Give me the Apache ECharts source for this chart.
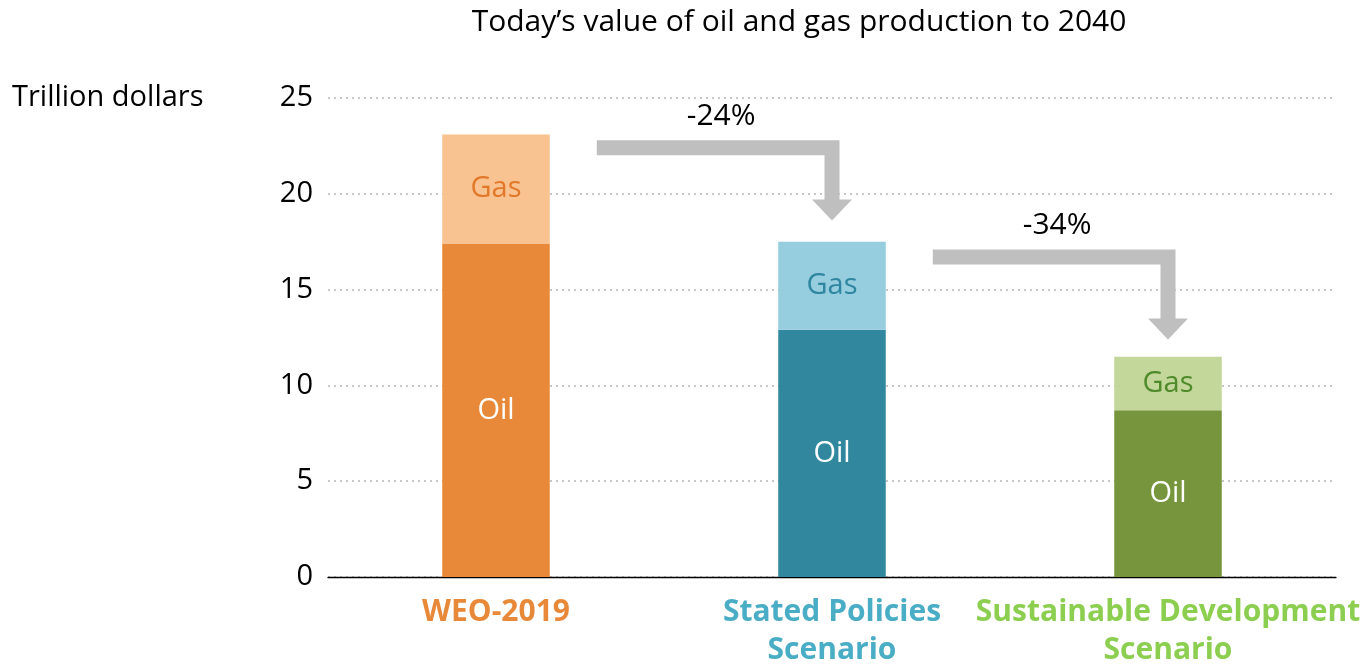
<!DOCTYPE html>
<html>
<head>
<meta charset="UTF-8">
<title>Today's value of oil and gas production to 2040</title>
<style>
  html, body { margin: 0; padding: 0; background: #fff; }
  #chart { width: 1362px; height: 664px; }
</style>
</head>
<body>
<div id="chart"></div>
<script src="https://cdn.jsdelivr.net/npm/echarts@6/dist/echarts.min.js"></script>
<script>
// scenarios on the x axis
var categories = ['WEO-2019', 'Stated Policies\nScenario', 'Sustainable Development\nScenario'];
// trillion dollars
var oilValues = [17.4, 12.9, 8.7];
var gasValues = [5.7, 4.6, 2.8];
var yTicks = [0, 5, 10, 15, 20, 25];
// arrows: [from category, to category, shaft level, tip level, label]
var arrows = [
  [0, 1, 22.4, 18.6, '-24%'],
  [1, 2, 16.7, 12.4, '-34%']
];

var oilColors = ['#e8893a', '#31889e', '#77953c'];
var gasColors = ['#f9c291', '#96cddf', '#c3d79b'];
var gasTextColors = ['#e2792a', '#2f86a0', '#4f8a2b'];
var catColors = ['#e8893a', '#4aadc6', '#8ccf50'];
var FONT = '"Open Sans", "Noto Sans", sans-serif';

var chart = echarts.init(document.getElementById('chart'));

var option = {
  animation: false,
  textStyle: { fontFamily: FONT },
  title: {
    text: 'Today\u2019s value of oil and gas production to 2040',
    left: 794,
    textAlign: 'center',
    top: 2,
    textStyle: { fontFamily: FONT, fontSize: 30, fontWeight: 'normal', color: '#000' }
  },
  grid: { left: 328, right: 26, top: 98, bottom: 87, containLabel: false, outerBoundsMode: 'none' },
  xAxis: {
    type: 'category',
    data: categories,
    axisTick: { show: false },
    axisLine: { lineStyle: { color: '#000', width: 1.3 } },
    axisLabel: {
      interval: 0,
      margin: 16,
      fontSize: 30,
      fontWeight: 'bold',
      lineHeight: 38,
      fontFamily: FONT,
      color: function (v, i) { return catColors[i]; }
    }
  },
  yAxis: {
    type: 'value',
    name: 'Trillion dollars',
    nameLocation: 'end',
    nameGap: 0,
    nameTextStyle: { fontSize: 29, color: '#000', align: 'left', verticalAlign: 'middle', padding: [0, 0, 0, -316] },
    min: yTicks[0],
    max: yTicks[yTicks.length - 1],
    interval: 5,
    axisLine: { show: false },
    axisTick: { show: false },
    axisLabel: { fontSize: 29, color: '#000', margin: 15 },
    splitLine: { lineStyle: { type: [2, 4], color: '#b5b5b5', width: 1.6 } }
  },
  series: [
    {
      name: 'Oil',
      type: 'bar',
      stack: 'total',
      barWidth: '32%',
      data: oilValues.map(function (v, i) {
        return { value: v, itemStyle: { color: oilColors[i] } };
      }),
      label: { show: true, position: 'inside', formatter: 'Oil', fontSize: 29, color: '#fff', fontFamily: FONT }
    },
    {
      name: 'Gas',
      type: 'bar',
      stack: 'total',
      barWidth: '32%',
      data: gasValues.map(function (v, i) {
        return {
          value: v,
          itemStyle: { color: gasColors[i] },
          label: { color: gasTextColors[i] }
        };
      }),
      label: { show: true, position: 'inside', formatter: 'Gas', fontSize: 29, fontFamily: FONT }
    },
    {
      name: 'Change',
      type: 'custom',
      silent: true,
      z: 5,
      data: arrows,
      renderItem: function (params, api) {
        var fromCat = api.value(0), toCat = api.value(1);
        var band = api.size([1, 0])[0];
        var start = api.coord([fromCat, api.value(2)]);
        var corner = api.coord([toCat, api.value(2)]);
        var tip = api.coord([toCat, api.value(3)]);
        var x0 = start[0] + band * 0.3;
        var xc = corner[0];
        var y = corner[1];
        var half = 7.5, headW = 20, headH = 21;
        var shape = [
          [x0, y - half], [xc + half, y - half], [xc + half, tip[1] - headH],
          [xc + headW, tip[1] - headH], [xc, tip[1]], [xc - headW, tip[1] - headH],
          [xc - half, tip[1] - headH], [xc - half, y + half], [x0, y + half]
        ];
        return {
          type: 'group',
          children: [
            { type: 'polygon', shape: { points: shape }, style: { fill: '#bfbfbf' } },
            {
              type: 'text',
              style: {
                text: arrows[params.dataIndex][4],
                x: (x0 + xc + half) / 2 + 3,
                y: y - half - 24,
                align: 'center',
                verticalAlign: 'middle',
                fontSize: 30,
                fontFamily: FONT,
                fill: '#000'
              }
            }
          ]
        };
      }
    }
  ]
};

chart.setOption(option);
window.addEventListener('resize', chart.resize);
</script>
</body>
</html>
